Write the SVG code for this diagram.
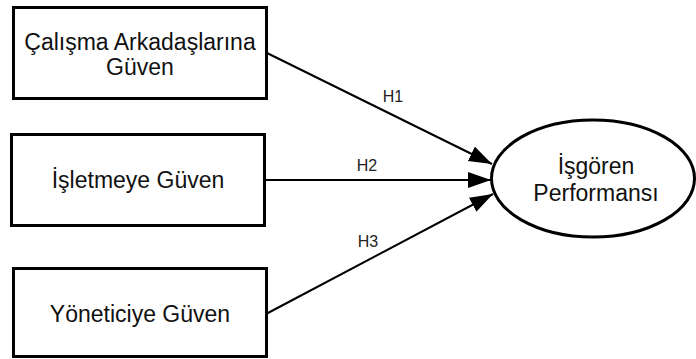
<svg xmlns="http://www.w3.org/2000/svg" width="696" height="359" viewBox="0 0 696 359">
<style>
.box{fill:#fff;stroke:#000;stroke-width:3}
.t{font-family:"Liberation Sans",Arial,sans-serif;font-size:23px;fill:#111;text-anchor:middle}
.l{font-family:"Liberation Sans",Arial,sans-serif;font-size:16px;fill:#222;text-anchor:middle}
.c{stroke:#000;stroke-width:2;fill:none;marker-end:url(#ah)}
</style>
<defs>
<marker id="ah" markerUnits="userSpaceOnUse" markerWidth="24" markerHeight="18" refX="23" refY="8" orient="auto">
<path d="M0,0 L23,8 L0,16 Z" fill="#000"/>
</marker>
</defs>
<rect width="696" height="359" fill="#fff"/>
<g id="connectors">
<line class="c" x1="267" y1="53" x2="492" y2="164"/>
<line class="c" x1="265" y1="180" x2="491" y2="180"/>
<line class="c" x1="266" y1="314" x2="493" y2="194"/>
<text class="l" x="393" y="102">H1</text>
<text class="l" x="367" y="171">H2</text>
<text class="l" x="368" y="247">H3</text>
</g>
<g id="n1">
<rect class="box" x="13.5" y="7.5" width="253" height="91"/>
<text class="t" x="140" y="50">Çalışma Arkadaşlarına</text>
<text class="t" x="140" y="75">Güven</text>
</g>
<g id="n2">
<rect class="box" x="11.5" y="134.5" width="253" height="91"/>
<text class="t" x="138" y="188">İşletmeye Güven</text>
</g>
<g id="n3">
<rect class="box" x="13.5" y="268.5" width="253" height="88"/>
<text class="t" x="140" y="322">Yöneticiye Güven</text>
</g>
<g id="n4">
<ellipse class="box" cx="593" cy="178.5" rx="101.5" ry="58.5"/>
<text class="t" x="596" y="174">İşgören</text>
<text class="t" x="596" y="201">Performansı</text>
</g>
</svg>
